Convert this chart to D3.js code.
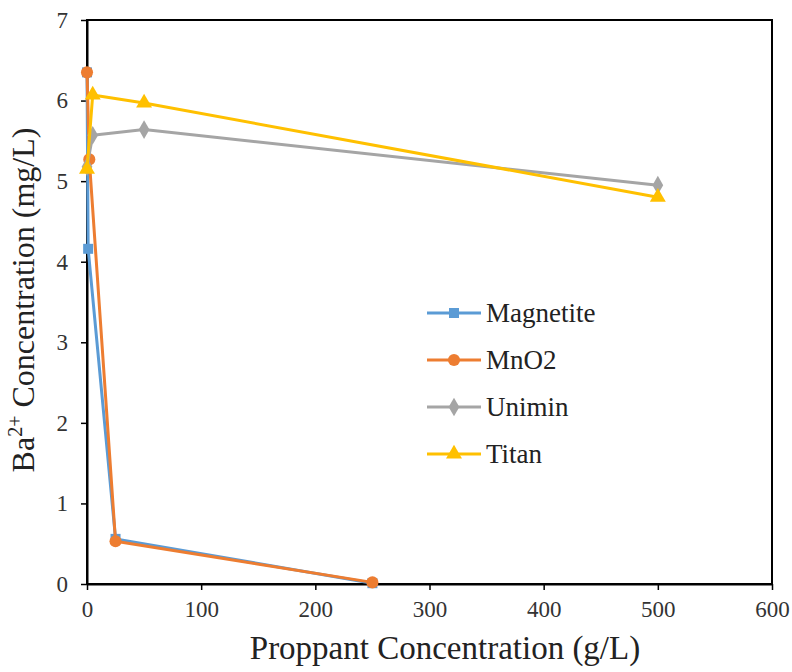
<!DOCTYPE html>
<meta charset="utf-8">
<head>
    <title>Ba2+ vs proppant</title>
</head>
<style>
    body { margin: 0; background: #fff; }
    svg text { font-family: "Liberation Serif", "Times New Roman", serif !important; fill: #222; }
</style>
<body>
    <svg width="792" height="672"></svg>

    <script src="https://cdnjs.cloudflare.com/ajax/libs/d3/7.8.5/d3.min.js"></script>
    <script>
        // data
        var names = ['Magnetite', 'MnO2', 'Unimin', 'Titan']
        var colors = ['#5B9BD5', '#ED7D31', '#A5A5A5', '#FFC000']
        var magnetite = [[0, 6.35], [1, 4.16], [25, 0.56], [250, 0.01]]
        var mno2 = [[0, 6.35], [2, 5.27], [25, 0.53], [250, 0.02]]
        var unimin = [[0, 5.18], [5, 5.57], [50, 5.64], [500, 4.95]]
        var titan = [[0, 5.15], [5, 6.07], [50, 5.97], [500, 4.8]]
        var xTicks = [0, 100, 200, 300, 400, 500, 600]
        var yTicks = [0, 1, 2, 3, 4, 5, 6, 7]

        var series = [magnetite, mno2, unimin, titan]
        var symbols = [d3.symbolSquare, d3.symbolCircle, d3.symbolDiamond, d3.symbolTriangle]
        var symSize = [100, 115, 100, 110]

        var svg = d3.select('svg')
        var pLeft = 87, pRight = 772, pTop = 20, pBottom = 584

        var x = d3.scaleLinear().domain([0, 600]).range([pLeft, pRight])
        var y = d3.scaleLinear().domain([0, 7]).range([pBottom, pTop])

        // frame
        svg.append('rect')
            .attr('x', pLeft).attr('y', pTop)
            .attr('width', pRight - pLeft).attr('height', pBottom - pTop)
            .attr('fill', 'none').attr('stroke', '#000').attr('stroke-width', 2)

        var xAxis = svg.append('g')
            .attr('transform', 'translate(0,' + pBottom + ')')
            .call(d3.axisBottom(x).tickValues(xTicks).tickFormat(d3.format('d')).tickSize(6).tickSizeOuter(0))
        var yAxis = svg.append('g')
            .attr('transform', 'translate(' + pLeft + ',0)')
            .call(d3.axisLeft(y).tickValues(yTicks).tickFormat(d3.format('d')).tickSize(6).tickSizeOuter(0))

        ;[xAxis, yAxis].forEach(function (a) {
            a.select('.domain').attr('stroke', '#000').attr('stroke-width', 2)
            a.selectAll('.tick line').attr('stroke', '#000').attr('stroke-width', 1.5)
            a.selectAll('.tick text').style('font-size', '23px').style('fill', '#333')
        })
        xAxis.selectAll('.tick text').attr('y', 17)
        yAxis.selectAll('.tick text').attr('x', -19)

        var line = d3.line()
            .x(function (d) { return x(d[0]) })
            .y(function (d) { return y(d[1]) })

        series.forEach(function (s, i) {
            var g = svg.append('g')
            g.append('path')
                .datum(s)
                .attr('d', line)
                .attr('fill', 'none')
                .attr('stroke', colors[i])
                .attr('stroke-width', 3)
                .attr('stroke-linejoin', 'round')
            g.selectAll('path.pt')
                .data(s)
                .enter()
                .append('path')
                .attr('class', 'pt')
                .attr('d', d3.symbol().type(symbols[i]).size(symSize[i]))
                .attr('transform', function (d) {
                    return 'translate(' + x(d[0]) + ',' + y(d[1]) + ')'
                })
                .attr('fill', colors[i])
        })

        // legend
        var leg = svg.append('g')
        names.forEach(function (n, i) {
            var yy = 313 + i * 47
            leg.append('line')
                .attr('x1', 427).attr('x2', 481)
                .attr('y1', yy).attr('y2', yy)
                .attr('stroke', colors[i]).attr('stroke-width', 3)
            leg.append('path')
                .attr('d', d3.symbol().type(symbols[i]).size(symSize[i]))
                .attr('transform', 'translate(454,' + yy + ')')
                .attr('fill', colors[i])
            leg.append('text')
                .attr('x', 486).attr('y', yy + 9)
                .style('font-size', '27px')
                .text(n)
        })

        // axis titles
        svg.append('text')
            .attr('x', 445).attr('y', 659)
            .attr('text-anchor', 'middle')
            .style('font-size', '33px')
            .text('Proppant Concentration (g/L)')

        var yt = svg.append('text')
            .attr('transform', 'translate(34,300) rotate(-90)')
            .attr('text-anchor', 'middle')
            .style('font-size', '32px')
        yt.append('tspan').text('Ba')
        yt.append('tspan').attr('dy', -12).style('font-size', '20px').text('2+')
        yt.append('tspan').attr('dy', 12).text(' Concentration (mg/L)')
    </script>
</body>
</html>
